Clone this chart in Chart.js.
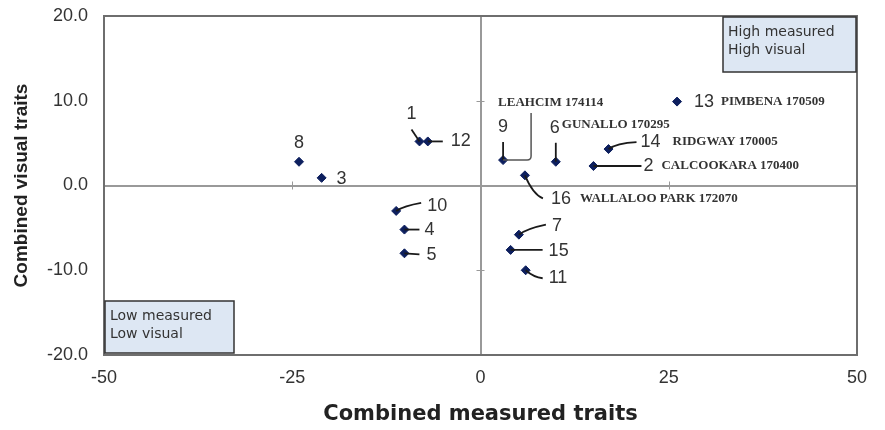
<!DOCTYPE html>
<html>
<head>
<meta charset="utf-8">
<script src="https://cdn.jsdelivr.net/npm/chart.js@4/dist/chart.umd.min.js"></script>
<style>
  html, body { margin: 0; padding: 0; background: #fff; }
  #wrap { width: 885px; height: 430px; position: relative; }
</style>
</head>
<body>
<div id="wrap"><canvas id="c" width="885" height="430"></canvas></div>
<script>
// ---- data ----
const pointIds = ['1','2','3','4','5','6','7','8','9','10','11','12','13','14','15','16'];
const measuredValues = [-8.1, 15.0, -21.1, -10.1, -10.1, 10.0, 5.1, -24.1, 3.0, -11.2, 6.0, -7.0, 26.1, 17.0, 4.0, 5.9];
const visualValues = [5.2, 2.3, 0.9, -5.2, -8.0, 2.8, -5.8, 2.8, 3.0, -3.0, -10.0, 5.2, 9.9, 4.3, -7.6, 1.2];
const cultivarNames = ['', 'CALCOOKARA 170400', '', '', '', 'GUNALLO 170295', '', '', 'LEAHCIM 174114', '', '', '', 'PIMBENA 170509', 'RIDGWAY 170005', '', 'WALLALOO PARK 172070'];
const xTickValues = [-50, -25, 0, 25, 50];
const yTickValues = [-20, -10, 0, 10, 20];
const xTitle = 'Combined measured traits';
const yTitle = 'Combined visual traits';
const quadrantHigh = ['High measured', 'High visual'];
const quadrantLow = ['Low measured', 'Low visual'];

// ---- label placement (pixel offsets from each marker) ----
const labelLayout = {
  '1':  { lead: [[0,0],[-8,-12]], num: [-8,-27,'center'] },
  '2':  { lead: [[0,0],[48,0]], num: [50,0,'left'], name: [68,0] },
  '3':  { lead: null, num: [15,1,'left'] },
  '4':  { lead: [[0,0],[15,0]], num: [20,0,'left'] },
  '5':  { lead: [[0,0],[15,1]], num: [22,2,'left'] },
  '6':  { lead: [[0,0],[0,-19]], num: [-1,-34,'center'], name: [6,-37] },
  '7':  { lead: [[0,0],[8,-6],[27,-10]], curve: true, num: [33,-9,'left'] },
  '8':  { lead: null, num: [0,-19,'center'] },
  '9':  { lead: [[0,0],[0,-18]], num: [0,-33,'center'], name: [-5,-57],
          bracket: [[0,0],[24,0],[28,-4],[28,-47]] },
  '10': { lead: [[0,0],[8,-5],[25,-8]], curve: true, num: [31,-5,'left'] },
  '11': { lead: [[0,0],[8,7],[17,8]], curve: true, num: [23,8,'left'] },
  '12': { lead: [[0,0],[15,0]], num: [23,0,'left'] },
  '13': { lead: null, num: [17,0,'left'], name: [44,0] },
  '14': { lead: [[0,0],[8,-6],[28,-7]], curve: true, num: [32,-7,'left'], name: [64,-7] },
  '15': { lead: [[0,0],[32,0]], num: [38,1,'left'] },
  '16': { lead: [[0,0],[8,19],[18,23]], curve: true, num: [26,24,'left'], name: [55,23] }
};

const points = pointIds.map((id, i) => ({ x: measuredValues[i], y: visualValues[i], id: id, name: cultivarNames[i] }));

const frameColor = '#6e6e6e';
const zeroColor = '#999999';
const textColor = '#333333';

const decorPlugin = {
  id: 'decor',
  beforeDatasetsDraw(chart) {
    const { ctx, chartArea: a, scales } = chart;
    ctx.save();
    ctx.strokeStyle = frameColor;
    ctx.lineWidth = 2;
    ctx.strokeRect(a.left, a.top, a.right - a.left, a.bottom - a.top);
    const x0 = scales.x.getPixelForValue(0), y0 = scales.y.getPixelForValue(0);
    ctx.strokeStyle = zeroColor;
    ctx.lineWidth = 1;
    xTickValues.forEach(v => {
      if (v === 0 || v === -50 || v === 50) return;
      const px = Math.round(scales.x.getPixelForValue(v)) + 0.5;
      ctx.beginPath(); ctx.moveTo(px, y0 - 4); ctx.lineTo(px, y0 + 4); ctx.stroke();
    });
    yTickValues.forEach(v => {
      if (v === 0 || v === -20 || v === 20) return;
      const py = Math.round(scales.y.getPixelForValue(v)) + 0.5;
      ctx.beginPath(); ctx.moveTo(x0 - 4, py); ctx.lineTo(x0 + 4, py); ctx.stroke();
    });
    ctx.restore();
  },
  afterDatasetsDraw(chart) {
    const { ctx, chartArea: a } = chart;
    const meta = chart.getDatasetMeta(0);
    ctx.save();
    meta.data.forEach((el, i) => {
      const p = points[i];
      const L = labelLayout[p.id];
      if (!L) return;
      const px = el.x, py = el.y;
      ctx.strokeStyle = '#1a1a1a';
      ctx.lineWidth = 1.8;
      const drawPath = (pts, curve) => {
        ctx.beginPath();
        ctx.moveTo(px + pts[0][0], py + pts[0][1]);
        if (curve && pts.length === 3) {
          ctx.quadraticCurveTo(px + pts[1][0], py + pts[1][1], px + pts[2][0], py + pts[2][1]);
        } else {
          for (let k = 1; k < pts.length; k++) ctx.lineTo(px + pts[k][0], py + pts[k][1]);
        }
        ctx.stroke();
      };
      if (L.lead) drawPath(L.lead, L.curve);
      if (L.bracket) {
        ctx.strokeStyle = '#555';
        ctx.lineWidth = 1.5;
        ctx.beginPath();
        const b = L.bracket;
        ctx.moveTo(px + b[0][0], py + b[0][1]);
        ctx.lineTo(px + b[1][0], py + b[1][1]);
        ctx.quadraticCurveTo(px + b[2][0], py + b[1][1], px + b[2][0], py + b[2][1]);
        ctx.lineTo(px + b[3][0], py + b[3][1]);
        ctx.stroke();
      }
      ctx.fillStyle = textColor;
      ctx.font = '18px "Liberation Sans", Arial, sans-serif';
      ctx.textBaseline = 'middle';
      ctx.textAlign = L.num[2];
      ctx.fillText(p.id, px + L.num[0], py + L.num[1]);
      if (L.name && p.name) {
        ctx.font = 'bold 13px "Liberation Serif", "Times New Roman", serif';
        ctx.textAlign = 'left';
        ctx.fillText(p.name, px + L.name[0], py + L.name[1]);
      }
    });
    const drawBox = (x, y, w, h, lines) => {
      ctx.fillStyle = '#dde7f3';
      ctx.fillRect(x, y, w, h);
      ctx.strokeStyle = '#333';
      ctx.lineWidth = 1.5;
      ctx.strokeRect(x, y, w, h);
      ctx.fillStyle = '#333';
      ctx.font = '14px "DejaVu Sans", sans-serif';
      ctx.textAlign = 'left';
      ctx.textBaseline = 'middle';
      lines.forEach((t, k) => ctx.fillText(t, x + 5, y + 15 + k * 18));
    };
    drawBox(a.right - 134, a.top + 1, 133, 55, quadrantHigh);
    drawBox(a.left + 1, a.bottom - 54, 129, 52, quadrantLow);
    ctx.restore();
  }
};

new Chart(document.getElementById('c'), {
  type: 'scatter',
  data: {
    datasets: [{
      data: points,
      pointStyle: 'rectRot',
      pointRadius: 4.5,
      pointHoverRadius: 4.5,
      backgroundColor: '#0d1f5e',
      borderColor: '#0d1f5e',
      borderWidth: 1
    }]
  },
  options: {
    responsive: false,
    animation: false,
    events: [],
    layout: { padding: { left: 0, right: 28, top: 16, bottom: 0 } },
    plugins: { legend: { display: false }, tooltip: { enabled: false } },
    scales: {
      x: {
        type: 'linear',
        min: -50, max: 50,
        afterBuildTicks: s => { s.ticks = xTickValues.map(v => ({ value: v })); },
        afterFit: s => { s.height = 75; s.paddingLeft = 0; s.paddingRight = 0; },
        ticks: { color: textColor, font: { family: '"Liberation Sans", Arial, sans-serif', size: 18 }, padding: 12, maxRotation: 0 },
        grid: { color: c => (c.tick && c.tick.value === 0 ? zeroColor : 'rgba(0,0,0,0)'), lineWidth: 2, drawTicks: false },
        border: { display: false },
        title: { display: true, text: xTitle, color: '#222', font: { family: '"DejaVu Sans", sans-serif', size: 21, weight: 'bold' }, padding: { top: 0, bottom: 3 } }
      },
      y: {
        type: 'linear',
        min: -20, max: 20,
        afterBuildTicks: s => { s.ticks = yTickValues.map(v => ({ value: v })); },
        afterFit: s => { s.width = 104; s.paddingTop = 0; s.paddingBottom = 0; },
        ticks: { color: textColor, font: { family: '"Liberation Sans", Arial, sans-serif', size: 18 }, padding: 16, callback: v => Number(v).toFixed(1) },
        grid: { color: c => (c.tick && c.tick.value === 0 ? zeroColor : 'rgba(0,0,0,0)'), lineWidth: 2, drawTicks: false },
        border: { display: false },
        title: { display: true, text: yTitle, color: '#222', font: { family: '"Liberation Sans", Arial, sans-serif', size: 19, weight: 'bold' }, padding: { top: 10, bottom: 0 } }
      }
    }
  },
  plugins: [decorPlugin]
});
</script>
</body>
</html>
